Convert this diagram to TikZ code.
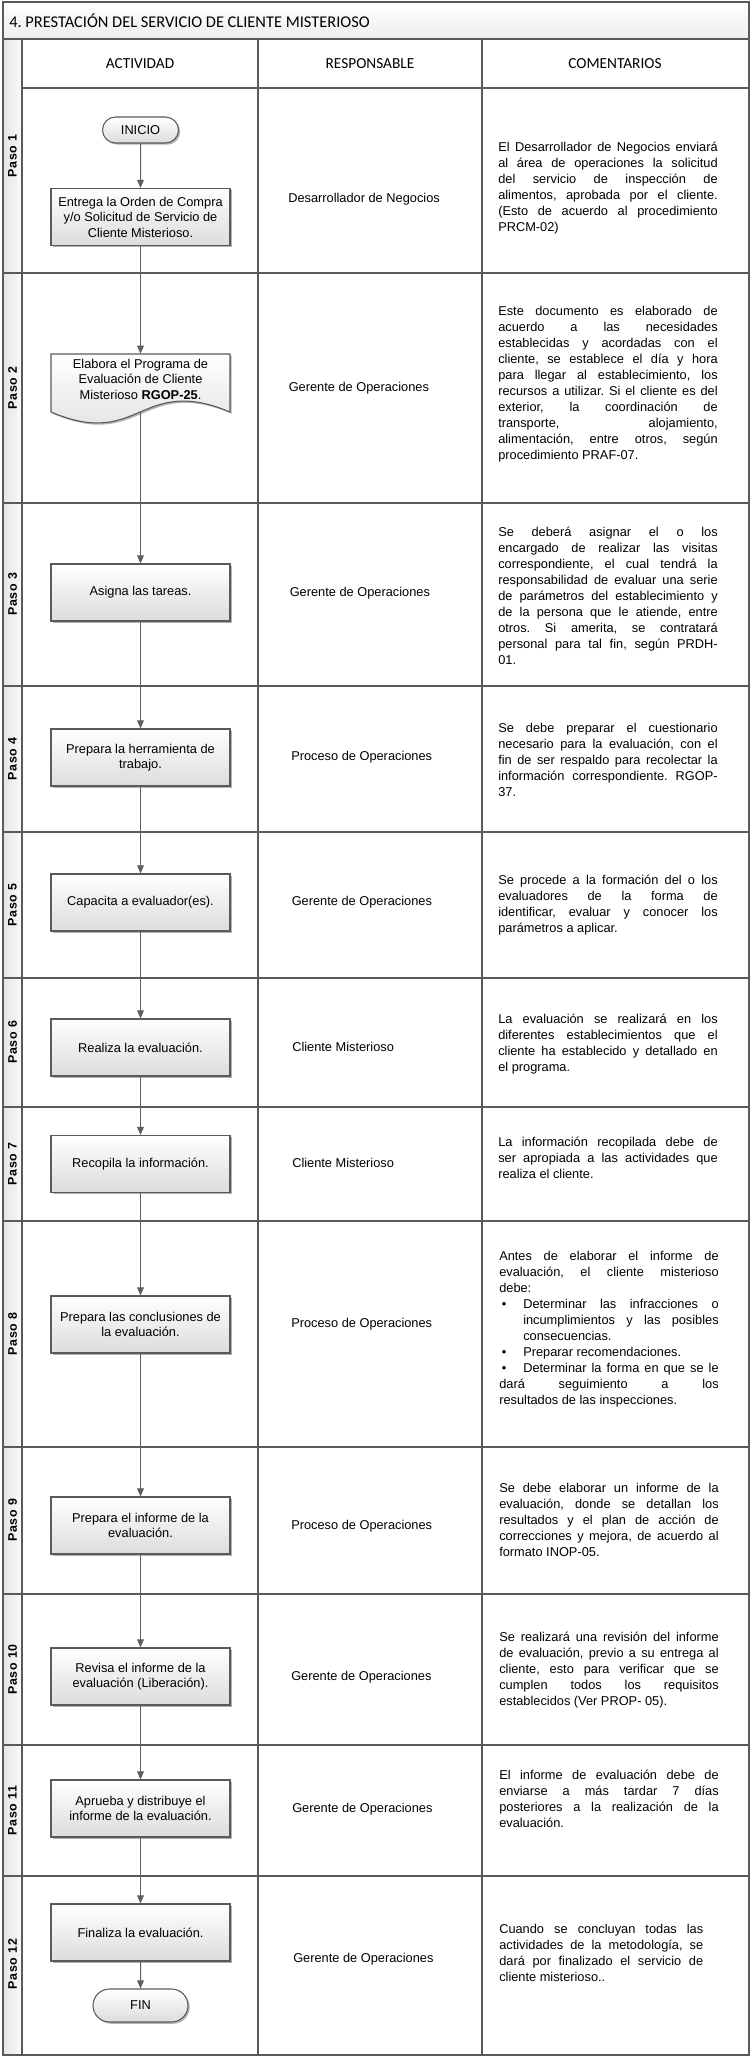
\documentclass[tikz,border=0pt]{standalone}
\usepackage{fontspec}
\setmainfont{Liberation Sans}
\newfontfamily\calfont{Carlito}
\newfontfamily\pasofont{Liberation Sans}[LetterSpace=6]
\usetikzlibrary{shapes.misc,shadows,arrows.meta}
\definecolor{ln}{HTML}{5A5A5A}
\definecolor{cn}{HTML}{5F5F5F}
\definecolor{bx}{HTML}{DCDCDC}
\frenchspacing
\newcommand{\bodyfs}{\fontsize{9.6}{12}\selectfont}
\newcommand{\boxfs}{\fontsize{9.6}{11.6}\selectfont}
\tikzset{
  tbl/.style={draw=ln, line width=1pt},
  shad/.style={drop shadow={shadow xshift=1.3pt, shadow yshift=-1.3pt, fill=black!30, opacity=1}},
  actbox/.style={shad, draw=ln, line width=0.8pt, top color=white, bottom color=bx,
    minimum width=134.25pt, minimum height=42.75pt, align=center, inner sep=2pt, font=\boxfs},
  term/.style={shad, rounded rectangle, draw=ln, line width=0.8pt, top color=white, bottom color=bx,
    inner sep=0pt, font=\boxfs},
  docshape/.style={shad, draw=ln, line width=0.8pt, top color=white, bottom color=bx},
  doctext/.style={minimum width=134.25pt, minimum height=37.5pt, align=center, inner sep=0pt, font=\boxfs},
  flow/.style={draw=cn, line width=0.75pt, -{Triangle[length=6pt,width=5pt]}},
  resp/.style={anchor=west, font=\bodyfs, inner sep=0pt},
  com/.style={anchor=north west, text width=164.6pt, align=justify, font=\bodyfs, inner sep=0pt,
    execute at begin node={\frenchspacing\tolerance=10000\hbadness=10000\hyphenpenalty=10000\exhyphenpenalty=10000}},
  paso/.style={rotate=90, font=\pasofont\bfseries\fontsize{9.3}{11}\selectfont, inner sep=0pt},
  head/.style={font=\calfont\fontsize{11.5}{13}\selectfont, inner sep=0pt}
}
\begin{document}
\begin{tikzpicture}[x=0.75pt,y=-0.75pt]
\useasboundingbox (0,0) rectangle (750,2057);
% backgrounds
\path[top color=white, bottom color=black!7] (3,2) rectangle (749,39);
\path[left color=black!10, right color=black!2] (3,39) rectangle (22,2055);
% table lines
\draw[tbl] (3,2) rectangle (749,2055);
\draw[tbl] (3,39) -- (749,39);
\draw[tbl] (22,39) -- (22,2055);
\draw[tbl] (258,39) -- (258,2055);
\draw[tbl] (482,39) -- (482,2055);
\draw[tbl] (22,88) -- (749,88);
\foreach \yy in {273,503,686,832,978,1107,1221,1447,1594,1745,1876}
  \draw[tbl] (3,\yy) -- (749,\yy);
% title and headers
\node[head, anchor=west, font=\calfont\fontsize{12.3}{14}\selectfont] (title) at (9,21) {4. PRESTACIÓN DEL SERVICIO DE CLIENTE MISTERIOSO};
\node[head] (hact) at (140,64) {ACTIVIDAD};
\node[head] (hresp) at (370,64) {RESPONSABLE};
\node[head] (hcom) at (615,64) {COMENTARIOS};
% paso labels
\node[paso] (p1) at (12.5,156) {Paso 1};
\node[paso] (p2) at (12.5,388) {Paso 2};
\node[paso] (p3) at (12.5,594.5) {Paso 3};
\node[paso] (p4) at (12.5,759) {Paso 4};
\node[paso] (p5) at (12.5,905) {Paso 5};
\node[paso] (p6) at (12.5,1042.5) {Paso 6};
\node[paso] (p7) at (12.5,1164) {Paso 7};
\node[paso] (p8) at (12.5,1334) {Paso 8};
\node[paso] (p9) at (12.5,1520.5) {Paso 9};
\node[paso] (p10) at (12.5,1669.5) {Paso 10};
\node[paso] (p11) at (12.5,1810.5) {Paso 11};
\node[paso] (p12) at (12.5,1964) {Paso 12};
% activity shapes
\node[term, minimum width=57pt, minimum height=19.5pt] (ini) at (140.5,130) {INICIO};
\node[actbox] (a1) at (140.5,217) {Entrega la Orden de Compra\\y/o Solicitud de Servicio de\\Cliente Misterioso.};
\path[docshape] (51,354) -- (230,354) -- (230,412) .. controls (140,374) and (140,450) .. (51,412) -- cycle;
\node[doctext] (doc) at (140.5,379) {Elabora el Programa de\\Evaluación de Cliente\\Misterioso \textbf{RGOP-25}.};
\coordinate (docb) at (140.5,412);
\node[actbox] (a3) at (140.5,592.5) {Asigna las tareas.};
\node[actbox] (a4) at (140.5,757.5) {Prepara la herramienta de\\trabajo.};
\node[actbox] (a5) at (140.5,902.5) {Capacita a evaluador(es).};
\node[actbox] (a6) at (140.5,1047.5) {Realiza la evaluación.};
\node[actbox] (a7) at (140.5,1164) {Recopila la información.};
\node[actbox] (a8) at (140.5,1324.5) {Prepara las conclusiones de\\la evaluación.};
\node[actbox] (a9) at (140.5,1525.5) {Prepara el informe de la\\evaluación.};
\node[actbox] (a10) at (140.5,1676.5) {Revisa el informe de la\\evaluación (Liberación).};
\node[actbox] (a11) at (140.5,1808.5) {Aprueba y distribuye el\\informe de la evaluación.};
\node[actbox] (a12) at (140.5,1932.5) {Finaliza la evaluación.};
\node[term, minimum width=71.25pt, minimum height=24.75pt] (fin) at (140.5,2005.5) {FIN};
% connectors
\draw[flow] (ini) -- (a1);
\draw[flow] (a1) -- (doc);
\draw[flow] (docb) -- (a3);
\draw[flow] (a3) -- (a4);
\draw[flow] (a4) -- (a5);
\draw[flow] (a5) -- (a6);
\draw[flow] (a6) -- (a7);
\draw[flow] (a7) -- (a8);
\draw[flow] (a8) -- (a9);
\draw[flow] (a9) -- (a10);
\draw[flow] (a10) -- (a11);
\draw[flow] (a11) -- (a12);
\draw[flow] (a12) -- (fin);
% responsables
\node[resp] (r1) at (288,199) {Desarrollador de Negocios};
\node[resp] (r2) at (288.5,388) {Gerente de Operaciones};
\node[resp] (r3) at (289.5,593) {Gerente de Operaciones};
\node[resp] (r4) at (291,757) {Proceso de Operaciones};
\node[resp] (r5) at (291.5,902) {Gerente de Operaciones};
\node[resp] (r6) at (292,1047) {Cliente Misterioso};
\node[resp] (r7) at (292,1163) {Cliente Misterioso};
\node[resp] (r8) at (291,1324) {Proceso de Operaciones};
\node[resp] (r9) at (291,1526) {Proceso de Operaciones};
\node[resp] (r10) at (291,1677) {Gerente de Operaciones};
\node[resp] (r11) at (292,1809) {Gerente de Operaciones};
\node[resp] (r12) at (293,1959) {Gerente de Operaciones};
% comentarios
\node[com] (c1) at (498,142) {El Desarrollador de Negocios enviará\linebreak al área de operaciones la solicitud\linebreak del servicio de inspección de\linebreak alimentos, aprobada por el cliente.\linebreak (Esto de acuerdo al procedimiento\linebreak PRCM-02)};
\node[com] (c2) at (498,306) {Este documento es elaborado de\linebreak acuerdo a las necesidades\linebreak establecidas y acordadas con el\linebreak cliente, se establece el día y hora\linebreak para llegar al establecimiento, los\linebreak recursos a utilizar. Si el cliente es del\linebreak exterior, la coordinación de\linebreak transporte, alojamiento,\linebreak alimentación, entre otros, según\linebreak procedimiento PRAF-07.};
\node[com] (c3) at (498,527) {Se deberá asignar el o los\linebreak encargado de realizar las visitas\linebreak correspondiente, el cual tendrá la\linebreak responsabilidad de evaluar una serie\linebreak de parámetros del establecimiento y\linebreak de la persona que le atiende, entre\linebreak otros. Si amerita, se contratará\linebreak personal para tal fin, según PRDH-\linebreak 01.};
\node[com] (c4) at (498,723) {Se debe preparar el cuestionario\linebreak necesario para la evaluación, con el\linebreak fin de ser respaldo para recolectar la\linebreak información correspondiente. RGOP-\linebreak 37.};
\node[com] (c5) at (498,875) {Se procede a la formación del o los\linebreak evaluadores de la forma de\linebreak identificar, evaluar y conocer los\linebreak parámetros a aplicar.};
\node[com] (c6) at (498,1014) {La evaluación se realizará en los\linebreak diferentes establecimientos que el\linebreak cliente ha establecido y detallado en\linebreak el programa.};
\node[com] (c7) at (498,1137) {La información recopilada debe de\linebreak ser apropiada a las actividades que\linebreak realiza el cliente.};
\node[com] (c8) at (499,1251) {Antes de elaborar el informe de\linebreak evaluación, el cliente misterioso\linebreak debe:\par
\hangindent=18pt\hangafter=1\noindent\hbox to 18pt{\hspace{2pt}\textbullet\hfil}Determinar las infracciones o\linebreak incumplimientos y las posibles\linebreak consecuencias.\par
\hangindent=18pt\hangafter=1\noindent\hbox to 18pt{\hspace{2pt}\textbullet\hfil}Preparar recomendaciones.\par
\hangindent=18pt\hangafter=1\noindent\hbox to 18pt{\hspace{2pt}\textbullet\hfil}Determinar la forma en que se le\linebreak dará seguimiento a los\linebreak resultados de las inspecciones.};
\node[com] (c9) at (499,1483) {Se debe elaborar un informe de la\linebreak evaluación, donde se detallan los\linebreak resultados y el plan de acción de\linebreak correcciones y mejora, de acuerdo al\linebreak formato INOP-05.};
\node[com] (c10) at (499,1632) {Se realizará una revisión del informe\linebreak de evaluación, previo a su entrega al\linebreak cliente, esto para verificar que se\linebreak cumplen todos los requisitos\linebreak establecidos (Ver PROP- 05).};
\node[com] (c11) at (499,1770) {El informe de evaluación debe de\linebreak enviarse a más tardar 7 días\linebreak posteriores a la realización de la\linebreak evaluación.};
\node[com, text width=153pt] (c12) at (499,1924) {Cuando se concluyan todas las\linebreak actividades de la metodología, se\linebreak dará por finalizado el servicio de\linebreak cliente misterioso..};
\end{tikzpicture}
\end{document}
